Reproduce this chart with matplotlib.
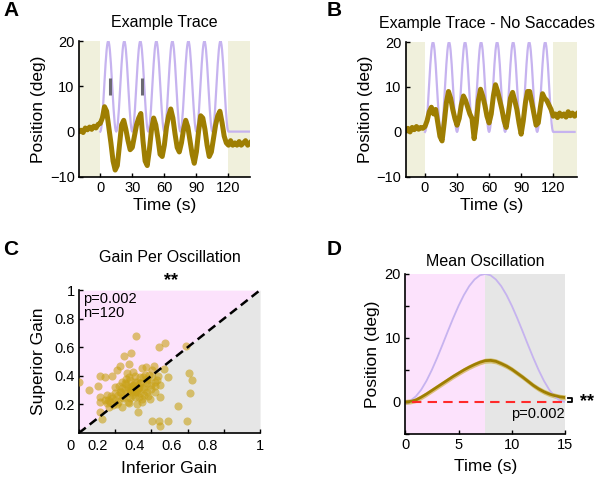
import numpy as np
import matplotlib
matplotlib.use("Agg")
import matplotlib.pyplot as plt
import matplotlib.transforms as mtransforms

plt.rcParams['font.family'] = ['Liberation Sans', 'DejaVu Sans']

# ---------------- data ----------------
# one stimulus cycle (deg), sampled every 0.5 s over 15 s
stim_cycle = [0, 0.22, 0.87, 1.91, 3.31, 5.0, 6.91, 8.95, 11.05, 13.09, 15.0, 16.69,
              18.09, 19.13, 19.78, 20.0, 19.78, 19.13, 18.09, 16.69, 15.0, 13.09,
              11.05, 8.95, 6.91, 5.0, 3.31, 1.91, 0.87, 0.22]
n_cycles = 8

# Panel A eye trace (deg), every 2 s from -20 to 140 s
eyeA = [0.0, 0.3, -0.2, 0.8, 0.4, 1.0, 0.5, 1.2, 0.8, 1.6, 1.8, 3.0, 5.5, 4.5, 1.0,
        -2.5, -6.5, -8.5, -7.5, -3.0, 1.5, 2.5, 0.5, -2.0, -4.0, -3.5, -1.0, 1.5,
        3.0, 4.0, -2.0, -6.5, -7.5, -4.0, 0.5, 3.0, 1.5, -1.5, -5.0, -5.5, -3.0,
        1.0, 3.5, 5.0, 3.0, -0.5, -3.5, -4.5, -2.5, 0.5, 2.5, 1.0, -2.0, -5.0,
        -7.0, -4.5, 0.0, 3.5, 3.0, 0.5, -3.0, -5.5, -4.5, -1.5, 1.5, 3.5, 4.5,
        2.0, -1.0, -2.5, -3.0, -2.0, -3.0, -2.5, -3.0, -2.2, -3.0, -2.5, -2.0,
        -3.0, -2.5]
tA_start, tA_step = -20, 2
# saccade markers in panel A (time s, y-range deg)
sacc_t = [9.4, 39.0]
sacc_y = [8.1, 11.8]

# Panel B eye trace (deg), every 2 s from -18 to 142 s
eyeB = [0.3, 0.8, 0.0, 1.0, 0.5, 1.2, 0.6, 1.0, 0.8, 1.2, 2.5, 4.5, 5.5, 4.0, 5.0,
        2.0, -1.0, -2.0, 2.0, 6.5, 9.0, 7.5, 5.0, 3.0, 1.5, 3.0, 6.0, 8.0, 7.0,
        5.5, 4.0, 3.0, -1.5, 2.0, 7.0, 9.5, 8.0, 6.0, 3.5, 2.0, 4.0, 8.0, 10.5,
        9.0, 7.0, 5.0, 2.5, 1.0, 4.0, 7.5, 8.8, 7.0, 5.0, 2.0, -0.5, 2.5, 6.5,
        9.0, 9.0, 6.5, 4.0, 1.5, 2.0, 5.5, 8.5, 7.5, 7.0, 6.0, 5.0, 3.5, 4.0,
        3.2, 4.2, 3.5, 4.0, 3.3, 4.5, 3.6, 4.2, 3.5, 4.0]
tB_start, tB_step = -18, 2

# Panel C gains
inf_gain = [0.316, 0.445, 0.476, 0.592, 0.250, 0.289, 0.228, 0.277, 0.209, 0.347,
            0.371, 0.416, 0.402, 0.472, 0.114, 0.145, 0.182, 0.265, 0.310, 0.353,
            0.388, 0.436, 0.491, 0.608, 0.623, 0.0, 0.108, 0.057, 0.200, 0.255,
            0.283, 0.320, 0.375, 0.421, 0.399, 0.292, 0.375, 0.421, 0.614, 0.118,
            0.154, 0.182, 0.218, 0.246, 0.310, 0.357, 0.393, 0.449, 0.118, 0.154,
            0.200, 0.237, 0.274, 0.320, 0.347, 0.546, 0.118, 0.164, 0.127, 0.329,
            0.406, 0.445, 0.449, 0.491, 0.596, 0.255, 0.273, 0.300, 0.320, 0.265,
            0.292, 0.329, 0.237, 0.338, 0.228, 0.357, 0.283, 0.200, 0.191, 0.145,
            0.173, 0.218, 0.366, 0.338, 0.274, 0.301, 0.402, 0.430, 0.449, 0.375,
            0.30, 0.31, 0.29, 0.32, 0.30, 0.28, 0.31, 0.30, 0.33, 0.29,
            0.22, 0.24, 0.26, 0.34, 0.36, 0.38, 0.33, 0.27, 0.24, 0.18,
            0.16, 0.21, 0.35, 0.40, 0.42, 0.37, 0.31, 0.26, 0.23, 0.34]
sup_gain = [0.680, 0.604, 0.633, 0.609, 0.538, 0.557, 0.468, 0.482, 0.441, 0.452,
            0.459, 0.468, 0.441, 0.445, 0.401, 0.394, 0.398, 0.422, 0.398, 0.394,
            0.405, 0.398, 0.389, 0.422, 0.371, 0.359, 0.329, 0.301, 0.324, 0.347,
            0.371, 0.359, 0.371, 0.359, 0.336, 0.301, 0.289, 0.289, 0.282, 0.254,
            0.266, 0.243, 0.266, 0.243, 0.254, 0.266, 0.235, 0.254, 0.219, 0.207,
            0.231, 0.180, 0.207, 0.203, 0.235, 0.191, 0.149, 0.180, 0.096, 0.149,
            0.084, 0.087, 0.052, 0.084, 0.087, 0.301, 0.324, 0.336, 0.290, 0.277,
            0.266, 0.312, 0.312, 0.347, 0.289, 0.324, 0.243, 0.277, 0.196, 0.231,
            0.219, 0.219, 0.405, 0.394, 0.394, 0.429, 0.394, 0.371, 0.336, 0.347,
            0.30, 0.31, 0.32, 0.30, 0.33, 0.30, 0.29, 0.31, 0.32, 0.29,
            0.33, 0.36, 0.38, 0.28, 0.31, 0.26, 0.25, 0.22, 0.25, 0.26,
            0.23, 0.20, 0.22, 0.31, 0.33, 0.38, 0.36, 0.34, 0.29, 0.35]
gain_ticks = [0, 0.2, 0.4, 0.6, 0.8, 1]
gain_ticklabels = ['0', '0.2', '0.4', '0.6', '0.8', '1']

# Panel D mean eye oscillation (deg), every 0.5 s from 0 to 15 s
mean_eye = [0.0, 0.1, 0.3, 0.75, 1.25, 1.8, 2.35, 2.9, 3.45, 4.0, 4.5, 5.0, 5.45,
            5.85, 6.2, 6.45, 6.5, 6.35, 6.0, 5.6, 5.1, 4.5, 3.9, 3.25, 2.6, 2.05,
            1.6, 1.25, 1.0, 0.8, 0.7]
mean_sem = 0.4

# ---------------- styling ----------------
C_STIM = '#c6b3ef'
C_EYE = '#9e7e02'
C_SHADE = '#f0f0dc'
C_PINK = '#fce2fc'
C_GRAY = '#e6e6e6'
C_DOT = '#c9a218'
FS_TITLE = 11.5
FS_LABEL = 12.5
FS_TICK = 10.5


def style(ax):
    for s in ['top', 'right']:
        ax.spines[s].set_visible(False)
    for s in ['left', 'bottom']:
        ax.spines[s].set_linewidth(1.2)
    ax.tick_params(direction='in', length=3, width=1, labelsize=FS_TICK, pad=3)


fig = plt.figure(figsize=(6.02, 4.78), dpi=100)
axA = fig.add_axes([0.131, 0.630, 0.284, 0.284])
axB = fig.add_axes([0.674, 0.630, 0.284, 0.282])
axC = fig.add_axes([0.131, 0.094, 0.301, 0.299])
axD = fig.add_axes([0.673, 0.092, 0.266, 0.335])

# stimulus time course
t_stim = np.concatenate([np.arange(len(stim_cycle) * n_cycles) * 0.5, [120, 140]])
stim = np.concatenate([np.tile(stim_cycle, n_cycles), [0, 0]])

# ---- Panel A ----
tA = tA_start + tA_step * np.arange(len(eyeA))
axA.axvspan(-20, 0, color=C_SHADE, lw=0)
axA.axvspan(120, 140, color=C_SHADE, lw=0)
axA.plot(t_stim, stim, color=C_STIM, lw=1.6)
axA.plot(tA, eyeA, color=C_EYE, lw=3.6, solid_joinstyle='round')
for ts in sacc_t:
    axA.plot([ts, ts], sacc_y, color='#6c6a74', lw=2.2, solid_capstyle='butt')
axA.set_xlim(-20, 140)
axA.set_ylim(-10, 20)
axA.set_xticks([0, 30, 60, 90, 120])
axA.set_yticks([-10, 0, 10, 20])
axA.set_title('Example Trace', fontsize=FS_TITLE, pad=10)
axA.set_xlabel('Time (s)', fontsize=FS_LABEL, labelpad=2)
axA.set_ylabel('Position (deg)', fontsize=FS_LABEL, labelpad=3)
style(axA)

# ---- Panel B ----
tB = tB_start + tB_step * np.arange(len(eyeB))
axB.axvspan(-18, 0, color=C_SHADE, lw=0)
axB.axvspan(120, 142, color=C_SHADE, lw=0)
axB.plot(t_stim, stim, color=C_STIM, lw=1.6)
axB.plot(tB, eyeB, color=C_EYE, lw=3.6, solid_joinstyle='round')
axB.set_xlim(-18, 142)
axB.set_ylim(-10, 20)
axB.set_xticks([0, 30, 60, 90, 120])
axB.set_yticks([-10, 0, 10, 20])
axB.set_title('Example Trace - No Saccades', fontsize=FS_TITLE, pad=10, x=0.478)
axB.set_xlabel('Time (s)', fontsize=FS_LABEL, labelpad=2)
axB.set_ylabel('Position (deg)', fontsize=FS_LABEL, labelpad=3)
style(axB)

# ---- Panel C ----
axC.fill_between([0, 1], [0, 1], [1, 1], color=C_PINK, lw=0)
axC.fill_between([0, 1], [0, 0], [0, 1], color=C_GRAY, lw=0)
axC.scatter(inf_gain, sup_gain, s=34, color=C_DOT, alpha=0.6, lw=0, zorder=3)
axC.plot([0, 1], [0, 1], color='black', lw=1.8, ls=(0, (3.5, 2)), zorder=4)
axC.set_xlim(0, 1)
axC.set_ylim(0, 1)
axC.set_xticks(gain_ticks)
axC.set_yticks(gain_ticks[1:])
axC.set_yticklabels(gain_ticklabels[1:])
axC.text(0.025, 0.985, 'p=0.002\nn=120', fontsize=10.5, va='top', ha='left',
         linespacing=1.0, transform=axC.transAxes)
axC.text(0.51, 1.005, '**', fontsize=13, fontweight='bold', ha='center', va='bottom',
         transform=axC.transAxes)
axC.set_title('Gain Per Oscillation', fontsize=FS_TITLE, pad=20)
axC.set_xlabel('Inferior Gain', fontsize=FS_LABEL, labelpad=20)
axC.set_ylabel('Superior Gain', fontsize=FS_LABEL, labelpad=6)
style(axC)
axC.tick_params(axis='x', labelbottom=False)
# x tick labels sit left of their ticks in the reference
offs_pt = [-6, -12.5, -12, -11.5, -11.5, 0]
for v, lab, dx in zip(gain_ticks, gain_ticklabels, offs_pt):
    tr = mtransforms.offset_copy(axC.get_xaxis_transform(), fig=fig, x=dx, y=-4,
                                 units='points')
    axC.text(v, 0, lab, transform=tr, ha='center', va='top', fontsize=FS_TICK,
             clip_on=False)

# ---- Panel D ----
tD = np.arange(len(mean_eye)) * 0.5
stimD = list(stim_cycle) + [0]
axD.axvspan(0, 7.5, color=C_PINK, lw=0)
axD.axvspan(7.5, 15, color=C_GRAY, lw=0)
axD.plot(tD, stimD, color=C_STIM, lw=1.3)
me = np.array(mean_eye)
axD.fill_between(tD, me - mean_sem, me + mean_sem, color='#c9a82a', alpha=0.6, lw=0)
axD.plot(tD, me, color=C_EYE, lw=2.0)
axD.plot([0.6, 15], [0, 0], color='#ff2a2a', lw=1.5, ls=(0, (4.5, 3)))
axD.set_xlim(0, 15)
axD.set_ylim(-5, 20)
axD.set_xticks([0, 5, 10, 15])
axD.set_yticks([-5, 0, 5, 10, 15, 20])
axD.set_yticklabels(['', '0', '', '10', '', '20'])
axD.text(14.9, -1.8, 'p=0.002', fontsize=10.5, ha='right', va='center')
axD.plot([15.25, 15.65, 15.65, 15.25], [0.7, 0.7, 0.0, 0.0], color='black', lw=1.3,
         clip_on=False)
axD.text(17.0, 0.0, '**', fontsize=13, fontweight='bold', ha='center', va='center',
         clip_on=False)
axD.set_title('Mean Oscillation', fontsize=FS_TITLE, pad=6)
axD.set_xlabel('Time (s)', fontsize=FS_LABEL, labelpad=5)
axD.set_ylabel('Position (deg)', fontsize=FS_LABEL, labelpad=3)
style(axD)

# panel letters
for lx, ly, L in [(0.005, 0.997, 'A'), (0.542, 0.997, 'B'), (0.005, 0.497, 'C'),
                  (0.542, 0.497, 'D')]:
    fig.text(lx, ly, L, fontsize=15, fontweight='bold', va='top', ha='left')

fig.savefig('out.png', dpi=100)
